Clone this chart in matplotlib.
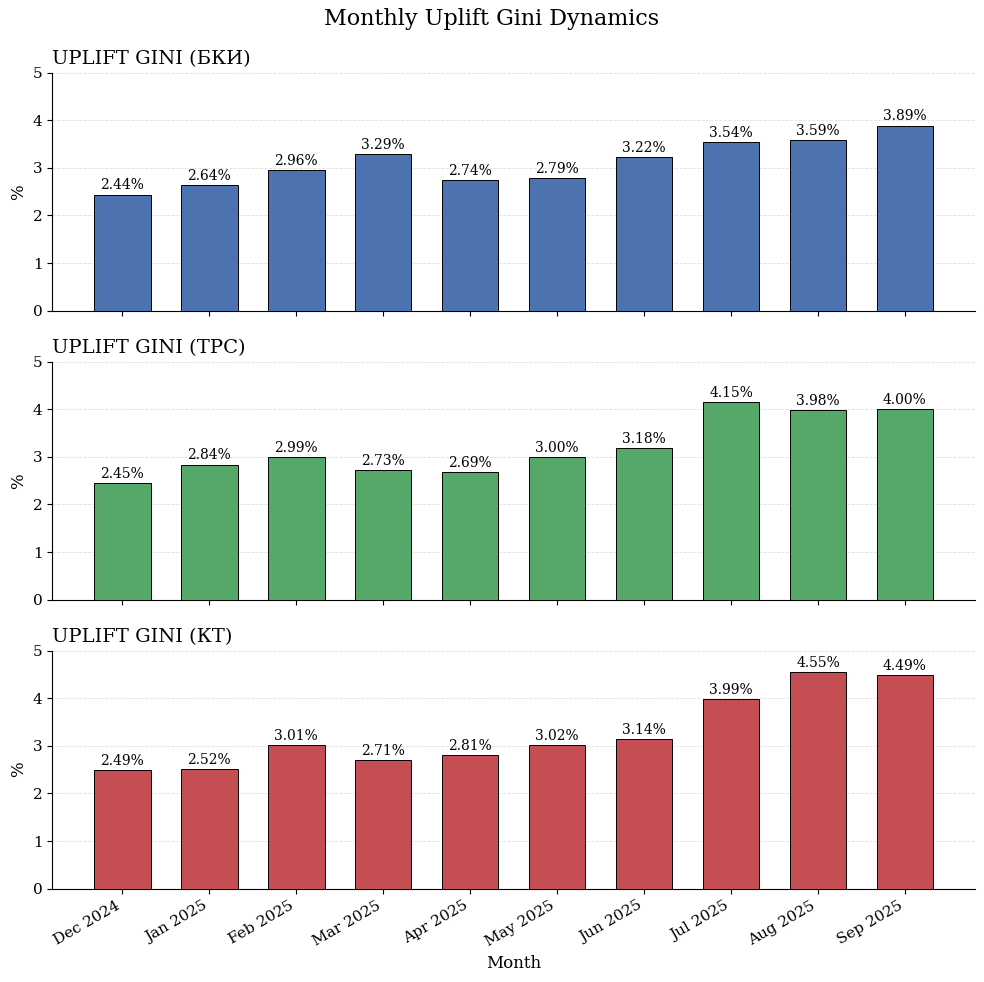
import matplotlib
matplotlib.use("Agg")
import matplotlib.pyplot as plt
import numpy as np

# monthly values, %
months = ["Dec 2024", "Jan 2025", "Feb 2025", "Mar 2025", "Apr 2025",
          "May 2025", "Jun 2025", "Jul 2025", "Aug 2025", "Sep 2025"]
bki = [2.44, 2.64, 2.96, 3.29, 2.74, 2.79, 3.22, 3.54, 3.59, 3.89]
trs = [2.45, 2.84, 2.99, 2.73, 2.69, 3.00, 3.18, 4.15, 3.98, 4.00]
kt = [2.49, 2.52, 3.01, 2.71, 2.81, 3.02, 3.14, 3.99, 4.55, 4.49]

panels = [("UPLIFT GINI (БКИ)", bki, "#4C72B0"),
          ("UPLIFT GINI (ТРС)", trs, "#55A868"),
          ("UPLIFT GINI (КТ)", kt, "#C44E52")]

plt.rcParams['font.family'] = 'DejaVu Serif'

fig, axes = plt.subplots(3, 1, figsize=(9.84, 9.82), dpi=100, sharex=True)
fig.subplots_adjust(left=0.053, right=0.991, top=0.926, bottom=0.095, hspace=0.214)
x = np.arange(len(months))

for ax, (title, vals, col) in zip(axes, panels):
    bars = ax.bar(x, vals, width=0.65, color=col, edgecolor='black', linewidth=0.7, zorder=3)
    for b, v in zip(bars, vals):
        ax.annotate(f"{v:.2f}%", (b.get_x() + b.get_width() / 2, v),
                    xytext=(0, 1.5), textcoords='offset points',
                    ha='center', va='bottom', fontsize=10)
    ax.set_title(title, loc='left', fontsize=14)
    ax.set_ylabel('%', fontsize=12)
    ax.set_ylim(0, 5)
    ax.grid(axis='y', linestyle='--', linewidth=0.6, alpha=0.4, zorder=0)
    ax.spines['top'].set_visible(False)
    ax.spines['right'].set_visible(False)
    ax.tick_params(labelsize=11)

axes[-1].set_xticks(x)
axes[-1].set_xticklabels(months, rotation=30, ha='right')
axes[-1].set_xlabel('Month', fontsize=12)

fig.suptitle('Monthly Uplift Gini Dynamics', fontsize=16, y=0.992)
fig.savefig('out.png', dpi=100)
